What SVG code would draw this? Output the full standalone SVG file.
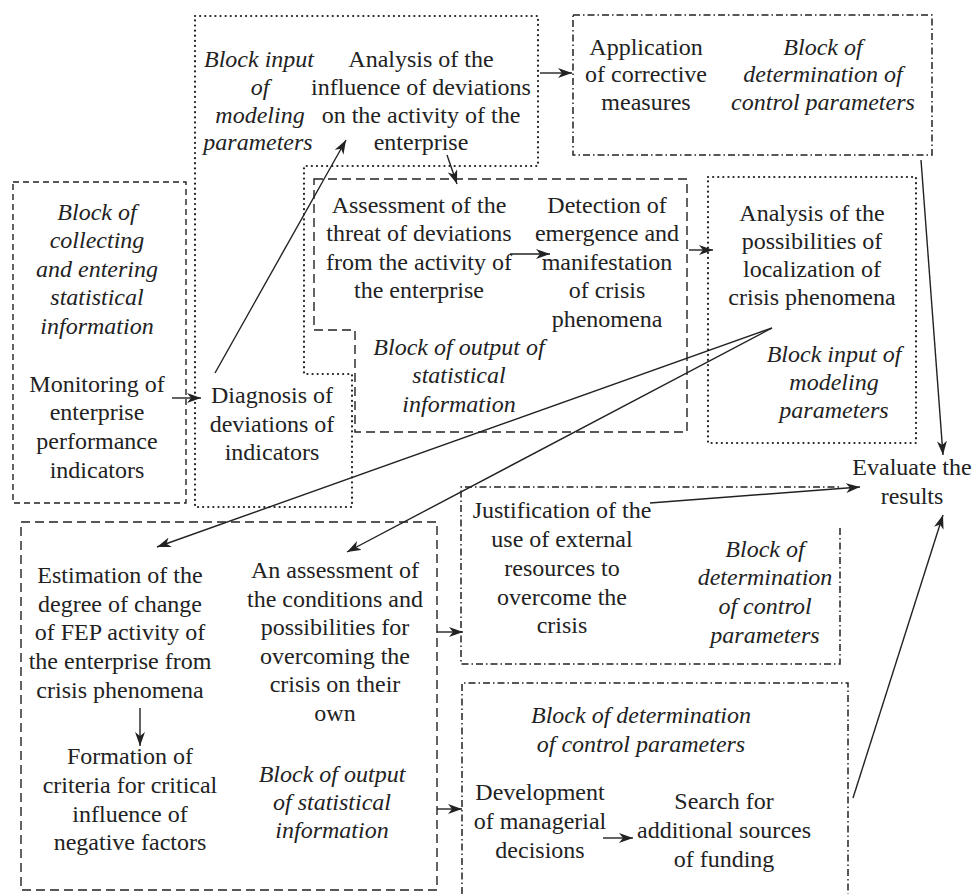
<svg xmlns="http://www.w3.org/2000/svg" width="976" height="894" viewBox="0 0 976 894">
<style>
text{font-family:'Times New Roman',Times,Tinos,'Liberation Serif','Noto Serif','FreeSerif','Nimbus Roman',serif;font-size:24px;fill:#222;text-anchor:middle}
.it{font-style:italic}
.dot{fill:none;stroke:#222;stroke-width:2.2;stroke-dasharray:0.1 5;stroke-linecap:round}
.dash{fill:none;stroke:#222;stroke-width:1.4;stroke-dasharray:9 5}
.dashs{fill:none;stroke:#222;stroke-width:1.4;stroke-dasharray:6 4}
.dd{fill:none;stroke:#222;stroke-width:1.5;stroke-dasharray:7 3 1.5 3}
.c{fill:none;stroke:#222;stroke-width:1.4;marker-end:url(#ah)}
</style>
<defs>
<marker id="ah" viewBox="0 0 14 10" refX="14" refY="5" markerWidth="14" markerHeight="10" markerUnits="userSpaceOnUse" orient="auto">
<path d="M0,0 L14,5 L0,10 L4,5 z" fill="#222"/>
</marker>
</defs>
<rect width="976" height="894" fill="#fff"/>

<g id="block-input-top">
<path class="dot" d="M195,16 H538 V166 H304 V374 H352 V507 H195 Z"/>
<text class="it" x="259" y="67">Block input</text>
<text class="it" x="260" y="95">of</text>
<text class="it" x="260" y="123">modeling</text>
<text class="it" x="258" y="150">parameters</text>
</g>
<g id="analysis-influence">
<text x="421" y="67">Analysis of the</text>
<text x="421" y="95">influence of deviations</text>
<text x="421" y="123">on the activity of the</text>
<text x="421" y="150">enterprise</text>
</g>
<g id="diagnosis">
<text x="272" y="403">Diagnosis of</text>
<text x="272" y="432">deviations of</text>
<text x="272" y="460">indicators</text>
</g>

<g id="block-collecting">
<rect class="dashs" x="13" y="182" width="173" height="321"/>
<text class="it" x="97" y="220">Block of</text>
<text class="it" x="97" y="248">collecting</text>
<text class="it" x="97" y="277">and entering</text>
<text class="it" x="97" y="305">statistical</text>
<text class="it" x="97" y="334">information</text>
</g>
<g id="monitoring">
<text x="97" y="392">Monitoring of</text>
<text x="97" y="420">enterprise</text>
<text x="97" y="449">performance</text>
<text x="97" y="478">indicators</text>
</g>

<g id="block-output-mid">
<path class="dash" d="M314,179 H687 V432 H355 V330 H314 Z"/>
<text class="it" x="459" y="355">Block of output of</text>
<text class="it" x="459" y="383">statistical</text>
<text class="it" x="459" y="412">information</text>
</g>
<g id="assessment-threat">
<text x="419" y="213">Assessment of the</text>
<text x="419" y="241">threat of deviations</text>
<text x="419" y="270">from the activity of</text>
<text x="419" y="298">the enterprise</text>
</g>
<g id="detection">
<text x="607" y="213">Detection of</text>
<text x="607" y="241">emergence and</text>
<text x="607" y="270">manifestation</text>
<text x="607" y="298">of crisis</text>
<text x="607" y="327">phenomena</text>
</g>

<g id="block-control-top">
<rect class="dd" x="573" y="15" width="359" height="140"/>
<text class="it" x="823" y="55">Block of</text>
<text class="it" x="823" y="82">determination of</text>
<text class="it" x="823" y="110">control parameters</text>
</g>
<g id="application">
<text x="646" y="55">Application</text>
<text x="646" y="82">of corrective</text>
<text x="646" y="110">measures</text>
</g>

<g id="block-input-right">
<rect class="dot" x="708" y="177" width="208" height="266"/>
<text class="it" x="834" y="362">Block input of</text>
<text class="it" x="834" y="390">modeling</text>
<text class="it" x="834" y="418">parameters</text>
</g>
<g id="analysis-localization">
<text x="812" y="221">Analysis of the</text>
<text x="812" y="249">possibilities of</text>
<text x="812" y="277">localization of</text>
<text x="812" y="305">crisis phenomena</text>
</g>

<g id="evaluate">
<text x="912" y="475">Evaluate the</text>
<text x="912" y="504">results</text>
</g>

<g id="block-output-bottom">
<rect class="dash" x="21" y="522" width="416" height="368"/>
<text class="it" x="332" y="782">Block of output</text>
<text class="it" x="332" y="810">of statistical</text>
<text class="it" x="332" y="838">information</text>
</g>
<g id="estimation">
<text x="120" y="583">Estimation of the</text>
<text x="120" y="612">degree of change</text>
<text x="120" y="640">of FEP activity of</text>
<text x="120" y="669">the enterprise from</text>
<text x="120" y="698">crisis phenomena</text>
</g>
<g id="formation">
<text x="130" y="764">Formation of</text>
<text x="130" y="793">criteria for critical</text>
<text x="130" y="822">influence of</text>
<text x="130" y="850">negative factors</text>
</g>
<g id="assessment-conditions">
<text x="335" y="578">An assessment of</text>
<text x="335" y="607">the conditions and</text>
<text x="335" y="635">possibilities for</text>
<text x="335" y="664">overcoming the</text>
<text x="335" y="692">crisis on their</text>
<text x="335" y="721">own</text>
</g>

<g id="block-control-mid">
<path class="dd" d="M840,528 V664 H461 V487 H840"/>
<text class="it" x="765" y="557">Block of</text>
<text class="it" x="765" y="585">determination</text>
<text class="it" x="765" y="614">of control</text>
<text class="it" x="765" y="643">parameters</text>
</g>
<g id="justification">
<text x="562" y="518">Justification of the</text>
<text x="562" y="547">use of external</text>
<text x="562" y="576">resources to</text>
<text x="562" y="605">overcome the</text>
<text x="562" y="633">crisis</text>
</g>

<g id="block-control-bottom">
<path class="dd" d="M462,894 V683 H848 V894"/>
<text class="it" x="641" y="723">Block of determination</text>
<text class="it" x="641" y="752">of control parameters</text>
</g>
<g id="development">
<text x="540" y="800">Development</text>
<text x="540" y="829">of managerial</text>
<text x="540" y="858">decisions</text>
</g>
<g id="search">
<text x="724" y="809">Search for</text>
<text x="724" y="838">additional sources</text>
<text x="724" y="867">of funding</text>
</g>

<g id="connectors">
<line class="c" x1="172" y1="398" x2="201" y2="398"/>
<line class="c" x1="215" y1="373" x2="346" y2="140"/>
<line class="c" x1="540" y1="73" x2="572" y2="73"/>
<line class="c" x1="447" y1="155" x2="457" y2="184"/>
<line class="c" x1="510" y1="254" x2="550" y2="254"/>
<line class="c" x1="689" y1="250" x2="713" y2="250"/>
<line class="c" x1="772" y1="328" x2="157" y2="547"/>
<line class="c" x1="772" y1="328" x2="347" y2="552"/>
<line class="c" x1="921" y1="160" x2="943" y2="455"/>
<line class="c" x1="650" y1="503" x2="860" y2="487"/>
<line class="c" x1="853" y1="798" x2="943" y2="515"/>
<line class="c" x1="140" y1="708" x2="140" y2="746"/>
<line class="c" x1="437" y1="632" x2="463" y2="632"/>
<line class="c" x1="437" y1="809" x2="462" y2="809"/>
<line class="c" x1="603" y1="838" x2="633" y2="838"/>
</g>
</svg>
